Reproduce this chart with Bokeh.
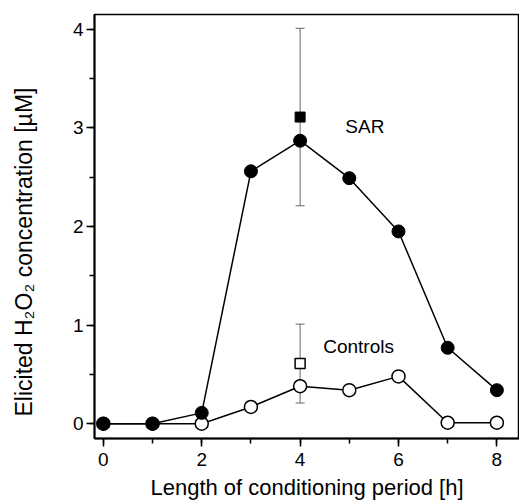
from bokeh.plotting import figure
from bokeh.models import (ColumnDataSource, Range1d, SingleIntervalTicker, Whisker,
                          TeeHead, Label)
from bokeh.embed import file_html
from bokeh.resources import INLINE

# ---- data ----
hours = [0, 1, 2, 3, 4, 5, 6, 7, 8]
sar = [0.0, 0.0, 0.11, 2.56, 2.87, 2.49, 1.95, 0.77, 0.34]
controls = [0.0, 0.0, 0.0, 0.17, 0.38, 0.34, 0.48, 0.01, 0.01]

mean_hours = [4]
sar_mean = [3.11]
sar_err = [0.90]
ctrl_mean = [0.61]
ctrl_err = [0.40]

x_label = "Length of conditioning period [h]"
y_label = "Elicited H\u2082O\u2082 concentration [\u00b5M]"
sar_text = "SAR"
ctrl_text = "Controls"

FONT = "Liberation Sans"

p = figure(width=519, height=504, output_backend="svg", toolbar_location=None,
           x_range=Range1d(-0.18, 8.46), y_range=Range1d(-0.15, 4.15),
           min_border_left=94, min_border_right=0, min_border_top=14,
           min_border_bottom=66)
p.background_fill_color = "white"
p.border_fill_color = "white"
p.outline_line_color = "black"
p.outline_line_width = 1.5
p.grid.visible = False

for ax in (p.xaxis[0], p.yaxis[0]):
    ax.axis_line_width = 2
    ax.axis_line_color = "black"
    ax.major_tick_out = 8
    ax.major_tick_in = 0
    ax.minor_tick_out = 5
    ax.minor_tick_in = 0
    ax.major_tick_line_width = 1.5
    ax.minor_tick_line_width = 1.5
    ax.major_label_text_font = FONT
    ax.major_label_text_font_size = "19px"
    ax.major_label_text_color = "black"
    ax.axis_label_text_font = FONT
    ax.axis_label_text_font_style = "normal"
    ax.axis_label_text_color = "black"

p.xaxis.ticker = SingleIntervalTicker(interval=2, num_minor_ticks=2)
p.yaxis.ticker = SingleIntervalTicker(interval=1, num_minor_ticks=2)
p.xaxis.major_label_standoff = 6
p.yaxis.major_label_standoff = 3
p.xaxis.axis_label = x_label
p.xaxis.axis_label_text_font_size = "22px"
p.xaxis.axis_label_standoff = 6
# trailing no-break spaces shift the visible label down along the axis
p.yaxis.axis_label = y_label + "\u00a0" * 8
p.yaxis.axis_label_text_font_size = "23px"
p.yaxis.axis_label_standoff = 33

# error bars
err_src = ColumnDataSource(dict(
    x=mean_hours + mean_hours,
    lower=[sar_mean[0] - sar_err[0], ctrl_mean[0] - ctrl_err[0]],
    upper=[sar_mean[0] + sar_err[0], ctrl_mean[0] + ctrl_err[0]],
))
p.add_layout(Whisker(source=err_src, base="x", lower="lower", upper="upper",
                     line_color="#666666", line_width=1,
                     upper_head=TeeHead(size=9, line_color="#666666", line_width=1),
                     lower_head=TeeHead(size=9, line_color="#666666", line_width=1)))

src = ColumnDataSource(dict(h=hours, sar=sar, ctrl=controls))
p.line("h", "ctrl", source=src, line_color="black", line_width=1.5)
p.line("h", "sar", source=src, line_color="black", line_width=1.5)
p.scatter("h", "ctrl", source=src, marker="circle", size=13,
          fill_color="white", line_color="black", line_width=1.5)
p.scatter("h", "sar", source=src, marker="circle", size=13,
          fill_color="black", line_color="black")

msrc = ColumnDataSource(dict(h=mean_hours, sar=sar_mean, ctrl=ctrl_mean))
p.scatter("h", "sar", source=msrc, marker="square", size=10,
          fill_color="black", line_color="black")
p.scatter("h", "ctrl", source=msrc, marker="square", size=10,
          fill_color="white", line_color="black", line_width=1.5)

p.add_layout(Label(x=4.92, y=3.01, text=sar_text, text_align="left",
                   text_baseline="middle", text_font=FONT,
                   text_font_size="19px", text_color="black"))
p.add_layout(Label(x=4.47, y=0.78, text=ctrl_text, text_align="left",
                   text_baseline="middle", text_font=FONT,
                   text_font_size="19px", text_color="black"))

open("out.html", "w").write(file_html(p, INLINE))
